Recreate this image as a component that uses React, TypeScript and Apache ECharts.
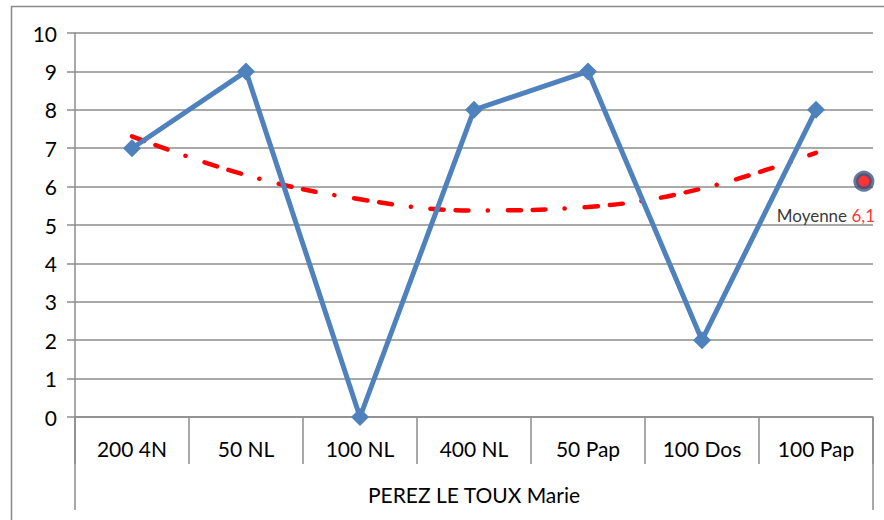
import React, { useEffect, useRef } from "react";
import * as echarts from "echarts";

const categories = ["200 4N", "50 NL", "100 NL", "400 NL", "50 Pap", "100 Dos", "100 Pap"];
const groupLabel = ["PEREZ LE TOUX Marie"];
const scores = [7, 9, 0, 8, 9, 2, 8];
const trendValues = [7.31, 6.3, 5.67, 5.38, 5.47, 5.95, 6.88];
const meanPoint = [[6.92, 6.14]];
const meanLabel = "6,1";

export default function App() {
  const ref = useRef<HTMLDivElement>(null);
  useEffect(() => {
    document.body.style.margin = "0";
    const chart = echarts.init(ref.current!, null, { renderer: "svg" });
    const font = "Lato, 'Open Sans', sans-serif";
    const gray = "#8c8c8c";
    chart.setOption({
      animation: false,
      backgroundColor: "#ffffff",
      grid: { left: 75, right: 11, top: 33, bottom: 103 },
      graphic: [
        {
          type: "rect",
          shape: { x: 11.5, y: 6.5, width: 900, height: 600 },
          style: { fill: "none", stroke: "#8a8a8a", lineWidth: 1.5 },
          silent: true,
        },
      ],
      xAxis: [
        {
          type: "category",
          data: categories,
          boundaryGap: true,
          axisLine: { show: true, lineStyle: { color: gray, width: 1.5 } },
          axisTick: { show: true, alignWithLabel: false, length: 47, lineStyle: { color: gray, width: 1.5 } },
          axisLabel: { color: "#000", fontFamily: font, fontSize: 21, margin: 21 },
          splitLine: { show: false },
        },
        {
          type: "category",
          data: groupLabel,
          position: "bottom",
          boundaryGap: true,
          axisLine: { show: false },
          axisTick: { show: true, length: 93, lineStyle: { color: gray, width: 1.5 } },
          axisLabel: { color: "#000", fontFamily: font, fontSize: 21, margin: 67 },
        },
        {
          type: "value",
          min: 0,
          max: 7,
          show: false,
        },
      ],
      yAxis: {
        type: "value",
        min: 0,
        max: 10,
        interval: 1,
        axisLine: { show: true, lineStyle: { color: gray, width: 1.5 } },
        axisTick: { show: true, length: 8, lineStyle: { color: gray, width: 1.5 } },
        axisLabel: { color: "#000", fontFamily: font, fontSize: 21, margin: 18 },
        splitLine: { show: true, lineStyle: { color: gray, width: 1.5 } },
      },
      series: [
        {
          type: "line",
          xAxisIndex: 0,
          data: trendValues,
          smooth: 0.4,
          symbol: "none",
          z: 3,
          lineStyle: {
            color: "#ff0000",
            width: 4.5,
            cap: "round",
            type: [13, 12, 13, 19, 0.1, 20],
          },
        },
        {
          type: "line",
          xAxisIndex: 0,
          data: scores,
          symbol: "diamond",
          symbolSize: 18,
          z: 4,
          lineStyle: { color: "#4f81bd", width: 5 },
          itemStyle: { color: "#4f81bd" },
        },
        {
          type: "scatter",
          xAxisIndex: 2,
          data: meanPoint,
          symbol: "circle",
          symbolSize: 16,
          z: 5,
          itemStyle: { color: "#ff0000", borderColor: "#3a5785", borderWidth: 5 },
          label: {
            show: true,
            position: "bottom",
            distance: 15,
            offset: [-38, 0],
            fontFamily: font,
            formatter: () => "{a|Moyenne }{b|" + meanLabel + "}",
            rich: {
              a: { color: "#000", fontSize: 17, fontFamily: font },
              b: { color: "#ff0000", fontSize: 17, fontFamily: font },
            },
          },
        },
      ],
    });
    return () => chart.dispose();
  }, []);
  return <div ref={ref} style={{ width: 884, height: 520 }} />;
}
